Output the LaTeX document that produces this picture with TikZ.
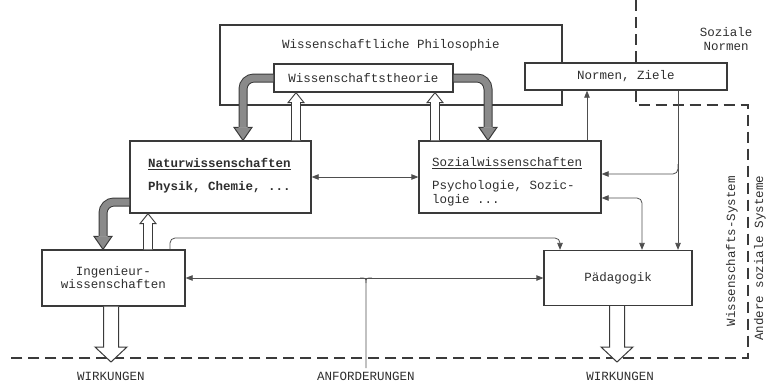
\documentclass[tikz,border=0pt]{standalone}
\usepackage{fontspec}
\setmonofont{Liberation Mono}
\usetikzlibrary{arrows.meta,calc}
\definecolor{ink}{HTML}{3A3A3A}
\definecolor{txt}{HTML}{2E2E2E}
\definecolor{shade}{HTML}{8A8A8A}
\begin{document}
\begin{tikzpicture}[x=1pt,y=-1pt,
  every node/.style={font=\ttfamily\fontsize{12.5}{13}\selectfont, text=txt, inner sep=0pt},
  box/.style={draw=ink, line width=1.3pt, fill=white},
  thinline/.style={draw=ink!90, line width=0.8pt},
  tipend/.style={-{Triangle[length=7pt,width=5.5pt]}},
  tipboth/.style={{Triangle[length=7pt,width=5.5pt]}-{Triangle[length=7pt,width=5.5pt]}},
  dashline/.style={draw=ink, line width=1.6pt, dash pattern=on 11pt off 6pt},
  greyshaft/.style={draw=ink, line width=1pt, double=shade, double distance=7pt, rounded corners=11pt},
  hollow/.style={draw=ink, line width=0.9pt, fill=white},
  greyhead/.pic={\filldraw[draw=ink, line width=1pt, fill=shade] (-4.5,0) -- (-9,0) -- (0,13) -- (9,0) -- (4.5,0);}
]
\useasboundingbox (0,0) rectangle (766,381);

% corner points of the dashed system borders
\coordinate (dtop) at (636,0);
\coordinate (dc1) at (636,105);
\coordinate (dc2) at (748,105);
\coordinate (dc3) at (748,358);
\coordinate (dc4) at (8,358);

% boxes
\node[box, minimum width=342pt, minimum height=80pt] (phil) at (391,65) {};
\node (philtxt) at (391,45) {Wissenschaftliche Philosophie};
\node[box, minimum width=179pt, minimum height=28pt] (wt) at (363.5,78) {Wissenschaftstheorie};
\node[box, minimum width=202pt, minimum height=27pt] (normen) at (626,76.5) {Normen, Ziele};
\node[box, minimum width=181pt, minimum height=72pt] (natur) at (220.5,177) {};
\node[box, minimum width=182pt, minimum height=72pt] (sozial) at (510,177) {};
\node[box, minimum width=143pt, minimum height=56pt, align=center] (ing) at (113.5,278) {Ingenieur-\\wissenschaften};
\node[box, minimum width=148pt, minimum height=55pt] (paed) at (618,278) {Pädagogik};

\node[anchor=west, font=\ttfamily\bfseries\fontsize{12.5}{13}\selectfont] (naturtitle) at (148,164) {\underline{Naturwissenschaften}};
\node[anchor=west, font=\ttfamily\bfseries\fontsize{12.5}{13}\selectfont] (naturtxt) at (148,187) {Physik, Chemie, ...};
\node[anchor=west] (sozialtitle) at (432,163) {\underline{Sozialwissenschaften}};
\node[anchor=west] (sozialtxt1) at (432,186) {Psychologie, Sozic-};
\node[anchor=west] (sozialtxt2) at (432,200) {logie ...};

\node[align=center, font=\ttfamily\fontsize{12.5}{14}\selectfont] (soznormen) at (726,39) {Soziale\\Normen};
\node[rotate=90] (wsys) at (732,251) {Wissenschafts-System};
\node[rotate=90] (asys) at (760,258) {Andere soziale Systeme};

% dashed borders
\draw[dashline] (dtop) -- (dtop |- normen.north);
\draw[dashline] (dtop |- normen.south) -- (dc1) -- (dc2) -- (dc3) -- (dc4);

% thin connectors
\draw[thinline, tipboth] (natur.east) -- (sozial.west);
\coordinate (s1) at (587,141);
\draw[thinline, tipend] (s1 |- sozial.north) -- (s1 |- normen.south);
\coordinate (jn) at (678,174);
\draw[thinline, tipend] (jn |- normen.south) -- (jn |- paed.north);
\draw[thinline, tipend, rounded corners=5pt] ($(jn)+(0,-10)$) |- (jn -| sozial.east);
\coordinate (k2) at (642,198);
\draw[thinline, tipboth, rounded corners=5pt] (k2 -| sozial.east) -| (k2 |- paed.north);
\coordinate (e1) at (170,238);
\coordinate (e2) at (560,238);
\draw[thinline, tipend, rounded corners=5pt] (e1 |- ing.north) -- (e1) -- (e2) -- (e2 |- paed.north);
\draw[thinline, tipboth] (ing.east) -- (paed.west);
\coordinate (anf) at (366,368);
\coordinate (ja) at (anf |- ing.east);
\draw[thinline] (anf) -- ($(ja)+(0,5)$) .. controls (ja) .. ($(ja)+(-6,0)$);
\draw[thinline] ($(ja)+(0,5)$) .. controls (ja) .. ($(ja)+(6,0)$);

% shaded feedback arrows
\coordinate (g1) at (243,78);
\draw[greyshaft] (wt.west) -- (g1) -- ($(g1 |- natur.north)+(0,-13)$);
\pic at ($(g1 |- natur.north)+(0,-13)$) {greyhead};
\coordinate (g2) at (488,78);
\draw[greyshaft] (wt.east) -- (g2) -- ($(g2 |- sozial.north)+(0,-13)$);
\pic at ($(g2 |- sozial.north)+(0,-13)$) {greyhead};
\coordinate (g3) at (103,202);
\draw[greyshaft] (g3 -| natur.west) -- (g3) -- ($(g3 |- ing.north)+(0,-13)$);
\pic at ($(g3 |- ing.north)+(0,-13)$) {greyhead};

% hollow arrows upwards (start s on the lower box, tip t on the upper box)
\coordinate (w1) at (296,141);
\coordinate (w1s) at (w1 |- natur.north);
\coordinate (w1t) at (w1 |- wt.south);
\draw[hollow] ($(w1s)+(-4.5,0)$) -- ($(w1t)+(-4.5,10)$) -- ($(w1t)+(-8,10)$) -- (w1t)
  -- ($(w1t)+(8,10)$) -- ($(w1t)+(4.5,10)$) -- ($(w1s)+(4.5,0)$);
\coordinate (w2) at (435,141);
\coordinate (w2s) at (w2 |- sozial.north);
\coordinate (w2t) at (w2 |- wt.south);
\draw[hollow] ($(w2s)+(-4.5,0)$) -- ($(w2t)+(-4.5,10)$) -- ($(w2t)+(-8,10)$) -- (w2t)
  -- ($(w2t)+(8,10)$) -- ($(w2t)+(4.5,10)$) -- ($(w2s)+(4.5,0)$);
\coordinate (w3) at (148,250);
\coordinate (w3s) at (w3 |- ing.north);
\coordinate (w3t) at (w3 |- natur.south);
\draw[hollow] ($(w3s)+(-4.5,0)$) -- ($(w3t)+(-4.5,10)$) -- ($(w3t)+(-8,10)$) -- (w3t)
  -- ($(w3t)+(8,10)$) -- ($(w3t)+(4.5,10)$) -- ($(w3s)+(4.5,0)$);

% outputs (broad hollow arrows down to the border)
\coordinate (b1) at (111,306);
\coordinate (b1s) at (b1 |- ing.south);
\coordinate (b1t) at ($(b1 |- dc4)+(0,4)$);
\draw[hollow, line width=1pt] ($(b1s)+(-7.5,0)$) -- ($(b1t)+(-7.5,-15)$) -- ($(b1t)+(-16,-15)$) -- (b1t)
  -- ($(b1t)+(16,-15)$) -- ($(b1t)+(7.5,-15)$) -- ($(b1s)+(7.5,0)$);
\coordinate (b2) at (617,306);
\coordinate (b2s) at (b2 |- paed.south);
\coordinate (b2t) at ($(b2 |- dc4)+(0,4)$);
\draw[hollow, line width=1pt] ($(b2s)+(-7.5,0)$) -- ($(b2t)+(-7.5,-15)$) -- ($(b2t)+(-16,-15)$) -- (b2t)
  -- ($(b2t)+(16,-15)$) -- ($(b2t)+(7.5,-15)$) -- ($(b2s)+(7.5,0)$);

\node (wirk1) at (111,376) {WIRKUNGEN};
\node (anftxt) at (366,376) {ANFORDERUNGEN};
\node (wirk2) at (620,376) {WIRKUNGEN};
\end{tikzpicture}
\end{document}
